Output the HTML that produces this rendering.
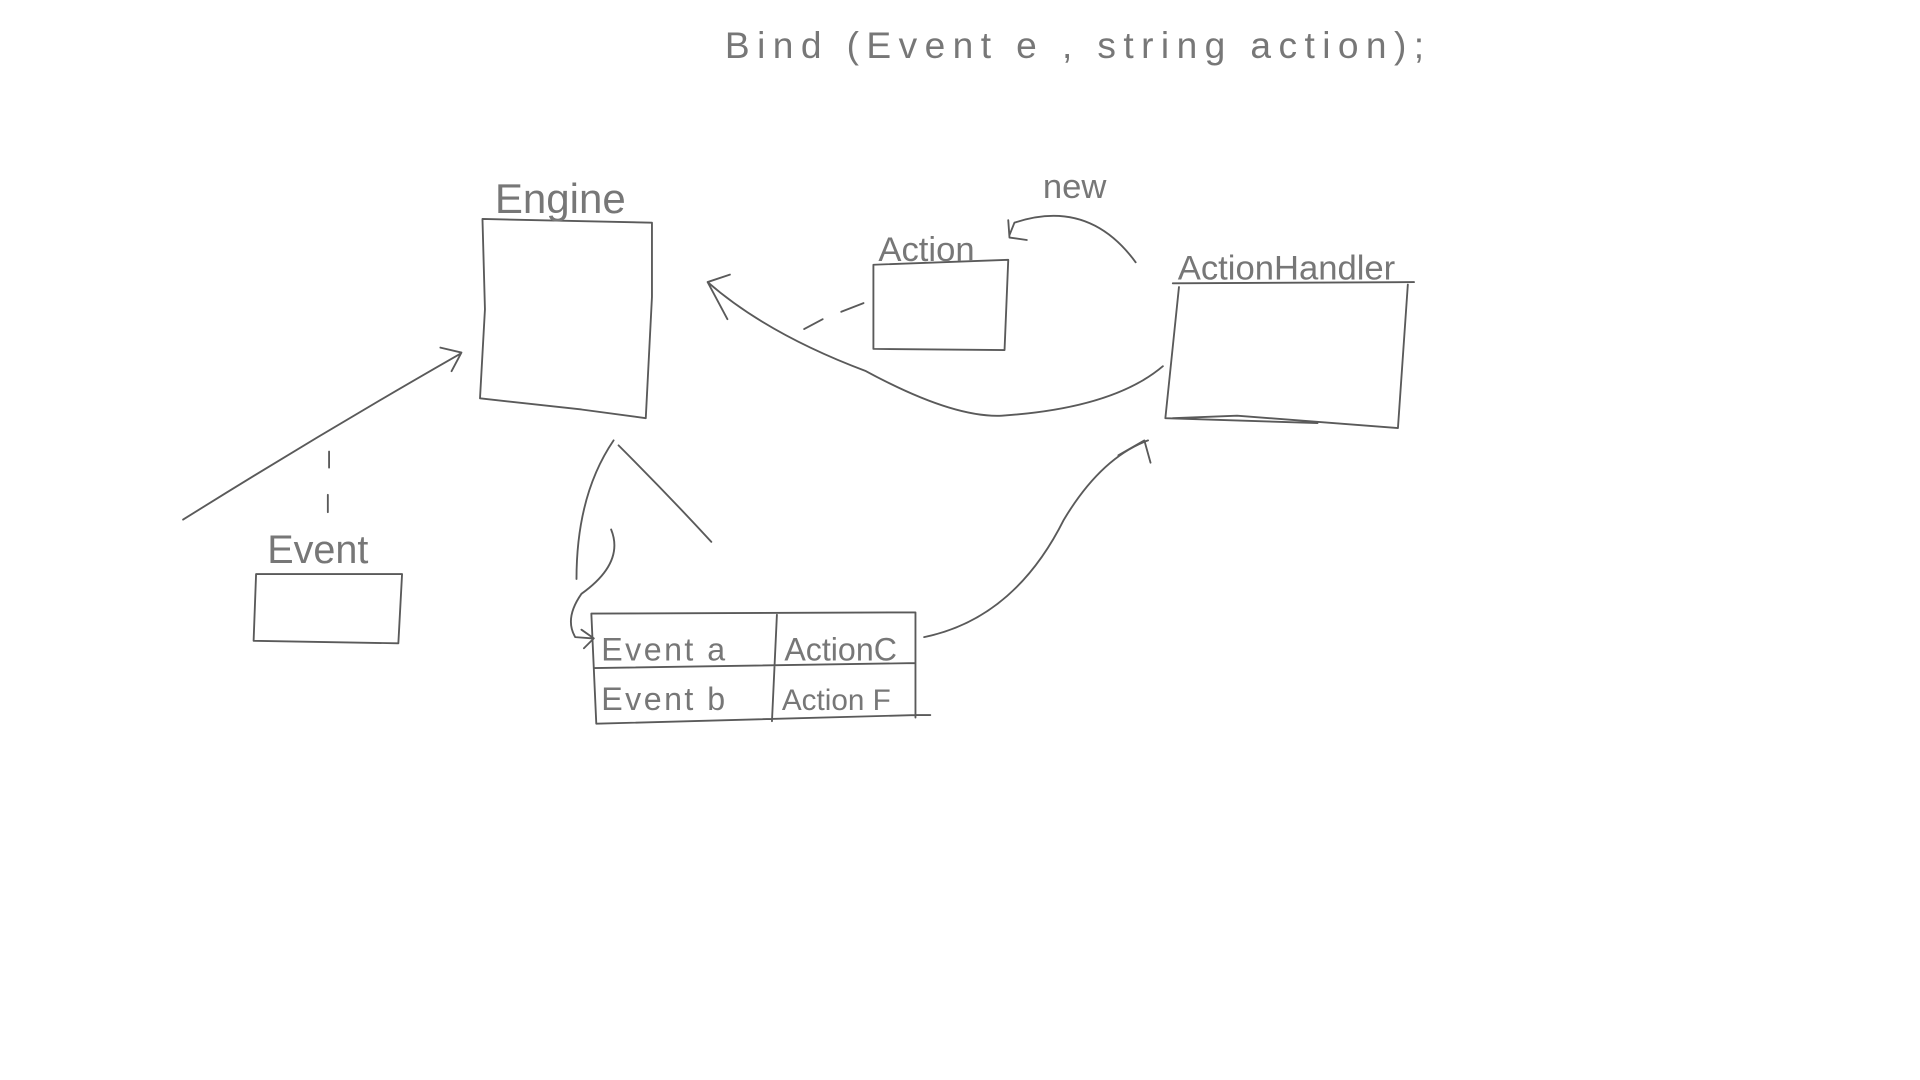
<!DOCTYPE html>
<html><head><meta charset="utf-8"><style>
html,body{margin:0;padding:0;background:#fff;}
svg{display:block;}
text{font-family:"Liberation Sans",sans-serif;fill:#777;font-weight:300;}
</style></head><body>
<svg width="1920" height="1080" viewBox="0 0 1552 873" preserveAspectRatio="none" xmlns="http://www.w3.org/2000/svg">
<g fill="none" stroke="#5a5a5a" stroke-width="1.5" stroke-linecap="round" stroke-linejoin="round">
<path d="M390 177 L527 180 L527 240 L522 338 L470 331 L388 322 L392 250 Z"/>
<path d="M706 214 L815 210 L812 283 L706 282 Z"/>
<path d="M948 229 L1143 228 M953 232 L942 338 L1065 342 M948 338 L1000 336 L1130 346 L1138 230"/>
<path d="M207 464 L325 464 L322 520 L205 518 Z"/>
<path d="M478 496 L740 495 L740 580 M478 496 L482 585 L740 578 L752 578 M480 540 L740 536 M628 497 L624 583"/>
<path d="M148 420 Q260 350 372 286 M356 281 L373 285 L365 300"/>
<path d="M266 365 L266 378 M265 400 L265 414"/>
<path d="M496 356 Q466 400 466 468 M500 360 Q540 400 575 438"/>
<path d="M494 428 Q505 455 470 480 Q456 500 465 515 L478 516 M470 509 L480 516 L472 524"/>
<path d="M747 515 Q820 500 860 420 Q890 370 928 356 M904 368 L925 356 L930 374"/>
<path d="M940 296 Q900 330 810 336 Q770 338 700 300 Q620 270 572 228 M590 222 L572 228 L588 258"/>
<path d="M650 266 L665 258 M680 252 L698 245"/>
<path d="M918 212 Q880 160 820 180 L816 190 M815 178 L816 192 L830 194"/>
</g>
<text x="586" y="47" font-size="30" letter-spacing="6">Bind (Event e , string action);</text>
<text x="400" y="172" font-size="34">Engine</text>
<text x="710" y="211" font-size="28">Action</text>
<text x="952" y="226" font-size="28">ActionHandler</text>
<text x="843" y="160" font-size="28">new</text>
<text x="216" y="455" font-size="32">Event</text>
<text x="486" y="534" font-size="26" letter-spacing="2">Event  a</text>
<text x="634" y="534" font-size="26">ActionC</text>
<text x="486" y="574" font-size="26" letter-spacing="2">Event  b</text>
<text x="632" y="574" font-size="24">Action F</text>
</svg>
</body></html>
